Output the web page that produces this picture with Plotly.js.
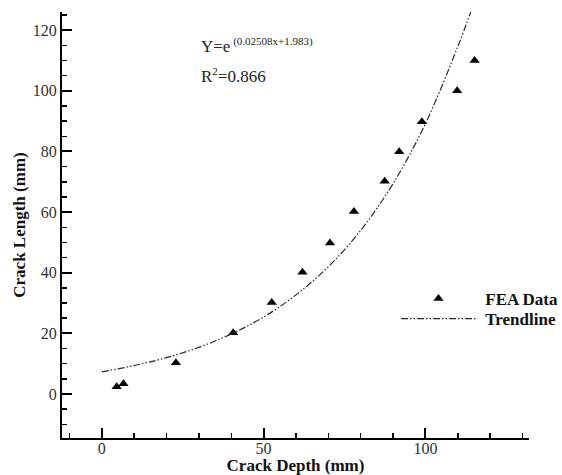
<!DOCTYPE html>
<html>
<head>
<meta charset="utf-8">
<script src="https://cdn.plot.ly/plotly-3.0.1.min.js"></script>
<style>html,body{margin:0;padding:0;background:#fff;}#chart{width:562px;height:475px;}</style>
</head>
<body>
<div id="chart"></div>
<script>
// FEA data
var feaDepth = [4.6, 6.7, 22.9, 40.6, 52.5, 62.0, 70.5, 77.9, 87.4, 91.9, 98.9, 109.8, 115.2];
var feaLength = [2.4, 3.4, 10.3, 20.2, 30.2, 40.2, 49.8, 60.2, 70.2, 79.9, 89.8, 100, 110];
// Trendline points
var trendDepth = [0, 10, 20, 30, 40, 50, 60, 70, 80, 90, 100, 110, 114];
var trendLength = [7.3, 9.4, 12.0, 15.4, 19.8, 25.4, 32.7, 42.0, 54.0, 69.4, 89.2, 114.6, 126];
var xTicks = [0, 50, 100];
var yTicks = [0, 20, 40, 60, 80, 100, 120];

var serif = "'Liberation Serif', 'Times New Roman', serif";
var nb = '\u00a0';

var traces = [
  {x: feaDepth, y: feaLength, type: 'scatter', mode: 'markers', name: nb + 'FEA Data', legend: 'legend',
   marker: {symbol: 'triangle-up', size: 9, color: '#000'}},
  {x: trendDepth, y: trendLength, type: 'scatter', mode: 'lines', name: nb + 'Trendline', legend: 'legend2',
   line: {shape: 'spline', color: '#2a2a2a', width: 1.2, dash: '7px,2px,1.5px,2px,1.5px,2px'}}
];

var legFont = {family: serif, size: 17, color: '#111', weight: 'bold'};
var legX = (396 - 62) / 467;

var layout = {
  width: 562, height: 475,
  margin: {l: 62, r: 33, t: 12, b: 37, autoexpand: false},
  paper_bgcolor: '#fff', plot_bgcolor: '#fff',
  showlegend: true,
  legend: {x: legX, y: (438 - 299) / 426, xanchor: 'left', yanchor: 'middle', itemwidth: 75,
           font: legFont, bgcolor: 'rgba(0,0,0,0)'},
  legend2: {x: legX, y: (438 - 319) / 426, xanchor: 'left', yanchor: 'middle', itemwidth: 75,
           font: legFont, bgcolor: 'rgba(0,0,0,0)'},
  xaxis: {range: [-12.3, 132], tickvals: xTicks, ticktext: xTicks.map(String),
          ticks: 'inside', ticklen: 10, tickwidth: 2, tickcolor: '#000', ticklabelstandoff: -5,
          showline: true, linecolor: '#000', linewidth: 2, showgrid: false, zeroline: false,
          minor: {dtick: 10, tick0: 0, ticks: 'inside', ticklen: 5, tickwidth: 1.5, tickcolor: '#000', showgrid: false},
          tickfont: {family: serif, size: 16, color: '#333'},
          title: {text: 'Crack Depth (mm)', standoff: 6, font: {family: serif, size: 17, color: '#111', weight: 'bold'}}},
  yaxis: {range: [-14.5, 126], tickvals: yTicks, ticktext: yTicks.map(String),
          ticks: 'inside', ticklen: 10, tickwidth: 2, tickcolor: '#000',
          showline: true, linecolor: '#000', linewidth: 2, showgrid: false, zeroline: false,
          minor: {dtick: 5, tick0: 0, ticks: 'inside', ticklen: 5, tickwidth: 1.5, tickcolor: '#000', showgrid: false},
          tickfont: {family: serif, size: 16, color: '#333'},
          title: {text: 'Crack Length (mm)', standoff: 3, font: {family: serif, size: 17, color: '#111', weight: 'bold'}}},
  annotations: [
    {xref: 'paper', yref: 'paper', x: (199 - 62) / 467, y: (438 - 45) / 426, xanchor: 'left', yanchor: 'middle',
     text: 'Y=e<sup><span style="font-size:11px">\u00a0(0.02508x+1.983)</span></sup>', showarrow: false,
     font: {family: serif, size: 17, color: '#222'}},
    {xref: 'paper', yref: 'paper', x: (199 - 62) / 467, y: (438 - 75) / 426, xanchor: 'left', yanchor: 'middle',
     text: 'R<sup><span style="font-size:11px">2</span></sup>=0.866', showarrow: false,
     font: {family: serif, size: 17, color: '#222'}}
  ]
};

Plotly.newPlot('chart', traces, layout, {displayModeBar: false, staticPlot: true});
</script>
</body>
</html>
